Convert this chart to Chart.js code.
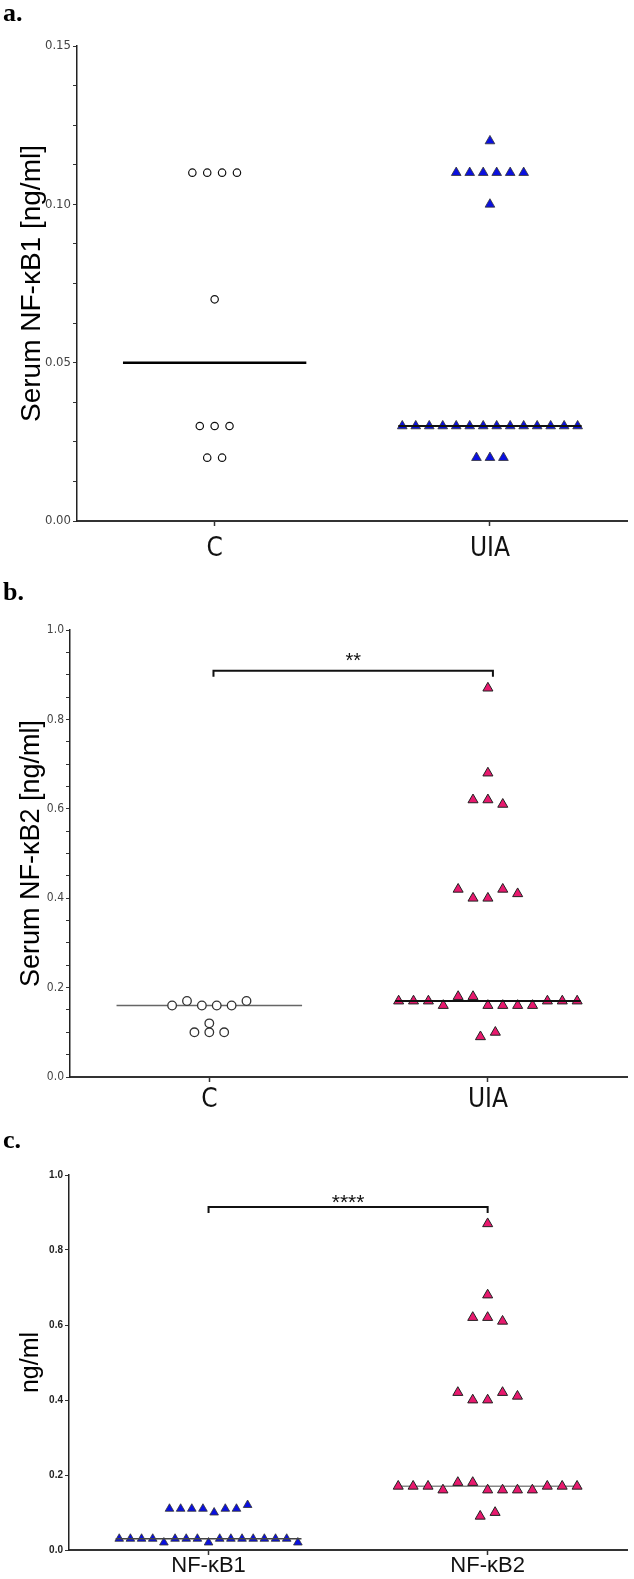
<!DOCTYPE html>
<html>
<head>
<meta charset="utf-8">
<script src="https://cdn.jsdelivr.net/npm/chart.js@4.4.1/dist/chart.umd.min.js"></script>
<style>
  html, body { margin: 0; padding: 0; background: #fff; }
  body { width: 634px; height: 1579px; position: relative; overflow: hidden; }
  .panel { position: absolute; left: 0; width: 634px; }
  .tag { position: absolute; left: 3px; z-index: 2; color: #000;
         font: bold 26px 'Liberation Serif', 'Times New Roman', serif; line-height: 26px; }
</style>
</head>
<body>
<div class="panel" style="top:0;height:575px"><canvas id="chartA"></canvas></div>
<div class="panel" style="top:560px;height:575px"><canvas id="chartB"></canvas></div>
<div class="panel" style="top:1135px;height:444px"><canvas id="chartC"></canvas></div>
<div class="tag" style="top:0px">a.</div>
<div class="tag" style="top:579px">b.</div>
<div class="tag" style="top:1127px">c.</div>

<script>
// === Datos (ng/ml) ===
const groupsSerum = ['C', 'UIA'];
const groupsPooled = ['NF-κB1', 'NF-κB2'];

const nfkb1Control = [0.11, 0.11, 0.11, 0.11, 0.07, 0.03, 0.03, 0.03, 0.02, 0.02];
const nfkb1Uia = [0.03, 0.03, 0.03, 0.03, 0.02, 0.03, 0.03, 0.03, 0.02, 0.03, 0.03, 0.03,
                  0.03, 0.03, 0.03, 0.03, 0.02, 0.11, 0.11, 0.11, 0.11, 0.10, 0.11, 0.11, 0.12];
const nfkb1Median = [0.05, 0.03];

const nfkb2Control = [0.16, 0.17, 0.16, 0.16, 0.16, 0.17, 0.10, 0.12, 0.10, 0.10];
const nfkb2Uia = [0.87, 0.68, 0.62, 0.62, 0.61, 0.42, 0.40, 0.40, 0.42, 0.41,
                  0.17, 0.17, 0.17, 0.16, 0.18, 0.18, 0.16, 0.16, 0.16, 0.16, 0.17, 0.17, 0.17,
                  0.09, 0.10];
const nfkb2Median = [0.16, 0.17];

const pooledMedian = [0.03, 0.17];

const yTicksA = [0, 0.05, 0.10, 0.15];
const yTicksB = [0, 0.2, 0.4, 0.6, 0.8, 1.0];
const yTicksC = [0, 0.2, 0.4, 0.6, 0.8, 1.0];

// Reparte los puntos en filas (tipo "column scatter" de GraphPad)
function swarm(values, center, rowGap, step) {
  const order = values.map((v, i) => ({ v, i })).sort((a, b) => a.v - b.v || a.i - b.i);
  const rows = [];
  let prev = null;
  order.forEach(p => {
    if (prev === null || p.v - prev > rowGap) rows.push([]);
    rows[rows.length - 1].push(p);
    prev = p.v;
  });
  const pts = new Array(values.length);
  rows.forEach(row => {
    row.sort((a, b) => a.i - b.i);
    row.forEach((p, k) => {
      pts[p.i] = { x: center + (k - (row.length - 1) / 2) * step, y: p.v };
    });
  });
  return pts;
}

function medianLine(m, center) {
  return [{ x: center - 0.333, y: m }, { x: center + 0.333, y: m }];
}

function withMinor(majors, sub) {
  const out = [];
  majors.forEach((m, i) => {
    out.push(m);
    if (i < majors.length - 1) {
      for (let k = 1; k < sub; k++) out.push(m + (majors[i + 1] - m) * k / sub);
    }
  });
  return out;
}

// Corchete de significancia
const bracketPlugin = {
  id: 'bracket',
  afterDatasetsDraw(chart, args, opts) {
    if (!opts || !opts.text) return;
    const { ctx, scales: { x, y } } = chart;
    const x0 = x.getPixelForValue(opts.from);
    const x1 = x.getPixelForValue(opts.to);
    const yl = y.getPixelForValue(opts.level);
    ctx.save();
    ctx.strokeStyle = '#111';
    ctx.lineWidth = 2;
    ctx.beginPath();
    ctx.moveTo(x0, yl + opts.drop);
    ctx.lineTo(x0, yl);
    ctx.lineTo(x1, yl);
    ctx.lineTo(x1, yl + opts.drop);
    ctx.stroke();
    ctx.fillStyle = '#111';
    ctx.font = opts.font;
    ctx.textAlign = 'center';
    ctx.textBaseline = 'alphabetic';
    ctx.fillText(opts.text, (x0 + x1) / 2, yl + opts.textOffset);
    ctx.restore();
  }
};

const NARROW = "'Liberation Sans Narrow', 'DejaVu Sans Condensed', 'Liberation Sans', sans-serif";
const SANS = "'Liberation Sans', Arial, sans-serif";

function buildChart(id, p) {
  const isMajor = v => p.majors.some(m => Math.abs(m - v) < 1e-9);
  return new Chart(document.getElementById(id), {
    type: 'scatter',
    data: { datasets: p.datasets },
    plugins: [bracketPlugin],
    options: {
      responsive: true,
      maintainAspectRatio: false,
      animation: false,
      layout: { padding: { top: p.top, right: 2, left: 0, bottom: 0 } },
      plugins: {
        legend: { display: false },
        tooltip: { enabled: false },
        bracket: p.bracket || false
      },
      scales: {
        x: {
          type: 'linear',
          min: -0.5,
          max: 1.5,
          afterFit: s => { s.height = p.bottomH; },
          afterBuildTicks: s => { s.ticks = p.groups.map((g, i) => ({ value: i })); },
          ticks: {
            autoSkip: false, maxRotation: 0, minRotation: 0,
            padding: p.xPad, color: '#111',
            font: p.xFont,
            callback: v => p.groups[Math.round(v)]
          },
          grid: { drawOnChartArea: false, tickLength: 5, tickColor: '#333', tickWidth: 1.5 },
          border: { color: '#333', width: 2 }
        },
        y: {
          min: 0,
          max: p.majors[p.majors.length - 1],
          afterFit: s => { s.width = p.axisX; },
          afterBuildTicks: s => { s.ticks = withMinor(p.majors, p.sub).map(v => ({ value: v })); },
          ticks: {
            autoSkip: false, padding: 2, color: p.yTickColor,
            font: p.yFont,
            callback: v => isMajor(v) ? v.toFixed(p.decimals) : ''
          },
          grid: { drawOnChartArea: false, tickLength: 4, tickColor: '#333', tickWidth: 1 },
          border: { color: '#222', width: 1.5 },
          title: {
            display: true, text: p.title, color: '#000',
            font: p.titleFont,
            padding: { top: p.titlePad, bottom: 0 }
          }
        }
      }
    }
  });
}

// === a. NF-kB1 sérico ===
buildChart('chartA', {
  top: 46, bottomH: 54, axisX: 77, xPad: 10,
  groups: groupsSerum, majors: yTicksA, sub: 4, decimals: 2,
  title: 'Serum NF-κB1 [ng/ml]',
  titleFont: { family: SANS, size: 28, lineHeight: 1 }, titlePad: 18,
  xFont: { family: NARROW, size: 26, lineHeight: 1 },
  yFont: { family: NARROW, size: 13 }, yTickColor: '#444',
  datasets: [
    { data: medianLine(nfkb1Median[0], 0), showLine: true, borderColor: '#000', borderWidth: 2.5, pointRadius: 0, order: 0 },
    { data: medianLine(nfkb1Median[1], 1), showLine: true, borderColor: '#111', borderWidth: 2, pointRadius: 0, order: 0 },
    { data: swarm(nfkb1Control, 0, 0.005, 0.054), pointStyle: 'circle', pointRadius: 3.7,
      backgroundColor: '#fff', borderColor: '#111', borderWidth: 1.2, order: 1 },
    { data: swarm(nfkb1Uia, 1, 0.005, 0.049), pointStyle: 'triangle', pointRadius: 5.6,
      backgroundColor: '#0a10e0', borderColor: '#333', borderWidth: 0.8, order: 1 }
  ]
});

// === b. NF-kB2 sérico ===
buildChart('chartB', {
  top: 70, bottomH: 58, axisX: 70, xPad: 5,
  groups: groupsSerum, majors: yTicksB, sub: 4, decimals: 1,
  title: 'Serum NF-κB2 [ng/ml]',
  titleFont: { family: SANS, size: 27, lineHeight: 1 }, titlePad: 18,
  xFont: { family: NARROW, size: 26, lineHeight: 1 },
  yFont: { family: NARROW, size: 12 }, yTickColor: '#444',
  bracket: { from: 0.015, to: 1.018, level: 0.909, drop: 6, text: '**', textOffset: -4,
             font: "20px 'Liberation Sans', Arial, sans-serif" },
  datasets: [
    { data: medianLine(nfkb2Median[0], 0), showLine: true, borderColor: '#666', borderWidth: 1.5, pointRadius: 0, order: 2 },
    { data: medianLine(nfkb2Median[1], 1), showLine: true, borderColor: '#111', borderWidth: 2, pointRadius: 0, order: 0 },
    { data: swarm(nfkb2Control, 0, 0.012, 0.0534), pointStyle: 'circle', pointRadius: 4.3,
      backgroundColor: '#fff', borderColor: '#333', borderWidth: 1.3, order: 1 },
    { data: swarm(nfkb2Uia, 1, 0.012, 0.0534), pointStyle: 'triangle', pointRadius: 5.8,
      backgroundColor: '#e8196e', borderColor: '#222', borderWidth: 1, order: 1 }
  ]
});

// === c. NF-kB1 vs NF-kB2 ===
buildChart('chartC', {
  top: 40, bottomH: 29, axisX: 69, xPad: 0,
  groups: groupsPooled, majors: yTicksC, sub: 1, decimals: 1,
  title: 'ng/ml',
  titleFont: { family: SANS, size: 25, lineHeight: 1 }, titlePad: 19,
  xFont: { family: SANS, size: 22, lineHeight: 1 },
  yFont: { family: SANS, size: 10, weight: 'bold' }, yTickColor: '#222',
  bracket: { from: 0, to: 1, level: 0.915, drop: 6, text: '****', textOffset: 2,
             font: "21px 'Liberation Sans', Arial, sans-serif" },
  datasets: [
    { data: medianLine(pooledMedian[0], 0), showLine: true, borderColor: '#444', borderWidth: 1.5, pointRadius: 0, order: 0 },
    { data: medianLine(pooledMedian[1], 1), showLine: true, borderColor: '#888', borderWidth: 1.5, pointRadius: 0, order: 2 },
    { data: swarm(nfkb1Uia, 0, 0.012, 0.040), pointStyle: 'triangle', pointRadius: 5,
      backgroundColor: '#0a10e0', borderColor: '#333', borderWidth: 0.8, order: 1 },
    { data: swarm(nfkb2Uia, 1, 0.012, 0.0534), pointStyle: 'triangle', pointRadius: 5.8,
      backgroundColor: '#e8196e', borderColor: '#222', borderWidth: 1, order: 1 }
  ]
});
</script>
</body>
</html>
